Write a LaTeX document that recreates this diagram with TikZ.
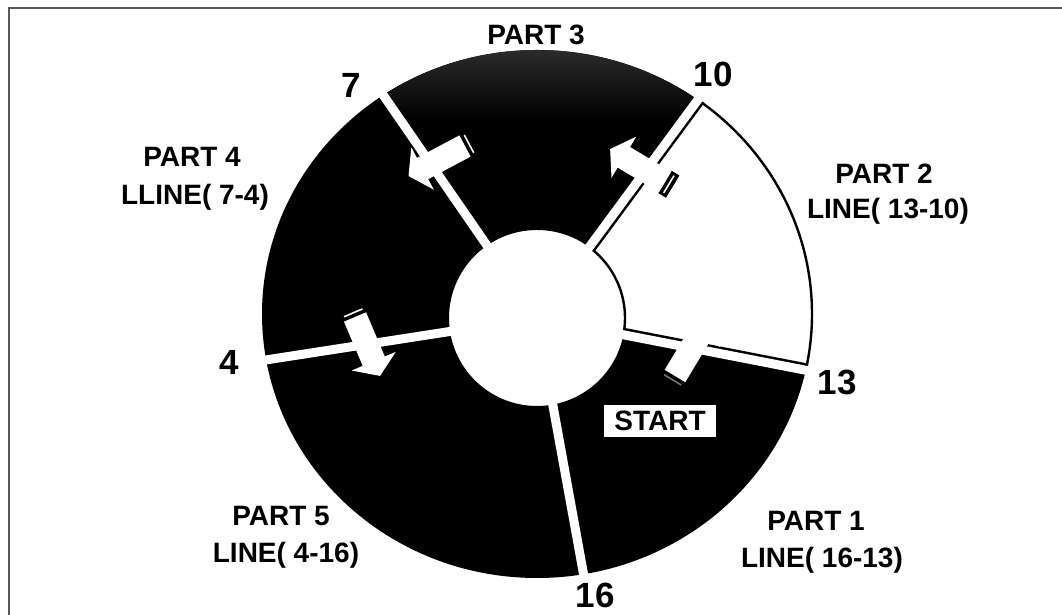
\documentclass[tikz,border=0pt]{standalone}
\usepackage{fontspec}
\setmainfont{Liberation Sans}
\usetikzlibrary{calc}
% #1 tail coordinate, #2 direction angle, #3 colour of the cap line
\newcommand\blockarrow[3]{%
  \begin{scope}[shift={(#1)}, rotate=#2]
    \fill[black] (0,-13) rectangle (-9,13);
    \draw[#3, line width=1.6pt] (-4.5,-10) -- (-4.5,10);
    \fill[white] (0,-12) -- (48,-12) -- (48,-24) -- (64,0) -- (48,24) -- (48,12) -- (0,12) -- cycle;
  \end{scope}
}
\begin{document}
\begin{tikzpicture}[x=1pt,y=1pt,
  lbl/.style={font=\fontsize{28}{34}\selectfont\bfseries, inner sep=0pt, anchor=base},
  num/.style={font=\fontsize{35}{40}\selectfont\bfseries, inner sep=0pt, anchor=base},
  gapline/.style={white, line width=9pt},
  outl/.style={black, line width=2.4pt}]
\useasboundingbox (0,0) rectangle (1062,615);
% frame (top and left only)
\draw[black!65, line width=1.2pt] (9,0) -- (9,607) -- (1062,607);
% geometry
\coordinate (C) at (537,297);
\coordinate (E) at (537,301);
% black ring
\fill[black, even odd rule] (E) ellipse [x radius=275, y radius=264] (C) circle [radius=88];
% part 3 speckled top
\begin{scope}
  \clip (C) -- ($(C)+(53.6:400)$) -- ($(C)+(90:400)$) -- ($(C)+(124.6:400)$) -- cycle;
  \clip (E) ellipse [x radius=275, y radius=264];
  \shade[top color=black!82, bottom color=black] (250,570) rectangle (830,495);
\end{scope}
% part 2 white sector
\begin{scope}
  \clip (C) -- ($(C)+(-11:400)$) -- ($(C)+(21:400)$) -- ($(C)+(53.6:400)$) -- cycle;
  \fill[white] (E) ellipse [x radius=275, y radius=264];
  \draw[outl] (E) ellipse [x radius=275, y radius=264];
  \draw[outl] (C) circle [radius=88];
  \begin{scope}
    \clip (E) ellipse [x radius=276, y radius=265];
    \draw[black, line width=14pt] ($(C)+(-11:88)$) -- ($(C)+(-11:300)$);
    \draw[black, line width=14pt] ($(C)+(53.6:88)$) -- ($(C)+(53.6:300)$);
  \end{scope}
\end{scope}
% gaps
\begin{scope}
  \clip (E) ellipse [x radius=278, y radius=267];
  \foreach \a in {-79.7,-11,53.6,124.6,188.8}
    \draw[gapline] ($(C)+(\a:80)$) -- ($(C)+(\a:300)$);
\end{scope}
% arrows (tail points)
\coordinate (aT) at (675,239);
\coordinate (bT) at (665,433);
\coordinate (cT) at (465,469);
\coordinate (dT) at (355,298);
\blockarrow{aT}{59}{black!55}
\blockarrow{bT}{149}{white}
\blockarrow{cT}{208}{white}
\blockarrow{dT}{-67}{white}
% start box
\node[fill=white, inner xsep=10pt, inner ysep=6pt, font=\fontsize{28}{34}\selectfont\bfseries] (start) at (660,194) {START};
% labels
\node[lbl] (p3) at (536,570) {PART 3};
\node[lbl] (p4a) at (192,448) {PART 4};
\node[lbl] (p4b) at (195,410) {LLINE( 7-4)};
\node[lbl] (p2a) at (884,431) {PART 2};
\node[lbl] (p2b) at (888,396) {LINE( 13-10)};
\node[lbl] (p5a) at (281,89) {PART 5};
\node[lbl] (p5b) at (286,52) {LINE( 4-16)};
\node[lbl] (p1a) at (816,84) {PART 1};
\node[lbl] (p1b) at (822,47) {LINE( 16-13)};
\node[num] (n10) at (713,528) {10};
\node[num] (n7) at (351,517) {7};
\node[num] (n4) at (229,240) {4};
\node[num] (n13) at (837,220) {13};
\node[num] (n16) at (595,7) {16};
\end{tikzpicture}
\end{document}
